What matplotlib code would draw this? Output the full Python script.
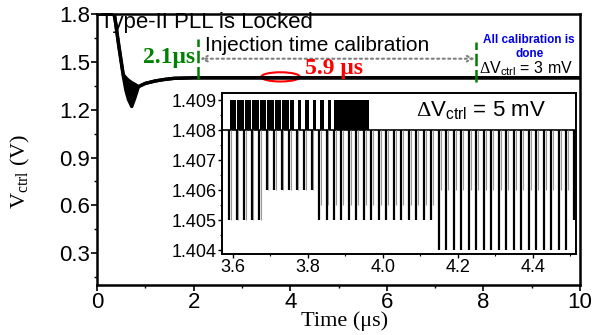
import numpy as np
import matplotlib
matplotlib.use("Agg")
import matplotlib.pyplot as plt
from matplotlib.patches import Ellipse
from matplotlib.ticker import MultipleLocator

plt.rcParams['font.family'] = ['Liberation Sans', 'DejaVu Sans']
plt.rcParams['mathtext.fontset'] = 'custom'
plt.rcParams['mathtext.rm'] = 'Liberation Serif'
plt.rcParams['mathtext.sf'] = 'Liberation Sans'

# Settling transient of Vctrl (lower / upper envelope of the ripple band)
t_env = [0.0, 0.36, 0.45, 0.545, 0.60, 0.65, 0.72, 0.78, 0.86, 1.0, 1.2, 1.4, 1.6, 2.0, 10.0]
v_low = [1.8, 1.8, 1.60, 1.41, 1.32, 1.265, 1.22, 1.27, 1.345, 1.365, 1.38, 1.39, 1.397, 1.40, 1.40]
v_up = [1.8, 1.8, 1.61, 1.42, 1.40, 1.385, 1.37, 1.36, 1.345, 1.365, 1.38, 1.39, 1.397, 1.40, 1.40]

t_lock = 2.1
t_done = 7.85

# Inset: downward spikes on Vctrl (us, V)
spike_t = [3.59, 3.61, 3.63, 3.65, 3.67,
           3.69, 3.71, 3.73, 3.75, 3.77, 3.79, 3.81,
           3.83, 3.85, 3.87, 3.89, 3.91, 3.93, 3.95, 3.97, 3.99, 4.01, 4.03, 4.05, 4.07, 4.09, 4.11, 4.13,
           4.15, 4.17, 4.19, 4.21, 4.23, 4.25, 4.27, 4.29, 4.31, 4.33, 4.35, 4.37, 4.39, 4.41, 4.43, 4.45,
           4.47, 4.49,
           4.51]
spike_lo = [1.405] * 5 + [1.406] * 7 + [1.405] * 16 + [1.404] * 18 + [1.405]
ghost_lo = [1.405] * 5 + [1.406] * 7 + [1.4055] * 16 + [1.406] * 18 + [1.405]

# Inset: intervals where Vctrl toggles up to 1.409 V
hi_left = [3.592, 3.612, 3.632, 3.652, 3.672, 3.692, 3.712, 3.732,
           3.753, 3.773, 3.793, 3.813, 3.833, 3.853, 3.869]
hi_width = [0.017, 0.017, 0.017, 0.017, 0.017, 0.017, 0.017, 0.017,
            0.009, 0.009, 0.009, 0.009, 0.009, 0.009, 0.094]

fig = plt.figure(figsize=(6.08, 3.35), dpi=100)
ax = fig.add_axes([0.1595, 0.149, 0.7945, 0.809])

ax.fill_between(t_env, v_low, v_up, color='k', lw=0)
ax.plot(t_env, v_low, color='k', lw=2.4)
ax.plot(t_env, v_up, color='k', lw=2.4)

ax.set_xlim(0, 10)
ax.set_ylim(0.1, 1.8)
ax.xaxis.set_major_locator(MultipleLocator(2))
ax.xaxis.set_minor_locator(MultipleLocator(1))
ax.yaxis.set_major_locator(MultipleLocator(0.3))
ax.yaxis.set_minor_locator(MultipleLocator(0.15))
ax.tick_params(which='major', length=4, width=1.2, labelsize=16, pad=1)
ax.tick_params(which='minor', length=2, width=1.0)
ax.set_xticks([0, 2, 4, 6, 8, 10])
ax.set_yticks([0.3, 0.6, 0.9, 1.2, 1.5, 1.8])
ax.set_yticklabels(['0.3', '0.6', '0.9', '1.2', '1.5', '1.8'])
for s in ax.spines.values():
    s.set_linewidth(1.8)

ax.set_xlabel('Time (\u03bcs)', family='Liberation Serif', fontsize=16)
ax.set_ylabel(r'V$_{\rm ctrl}$ (V)', family='Liberation Serif', fontsize=16)
ax.xaxis.set_label_coords(0.513, -0.095)
ax.yaxis.set_label_coords(-0.135, 0.42)

# annotations
ax.text(0.06, 1.745, 'Type-II PLL is Locked', fontsize=16, va='center', ha='left')
ax.text(2.24, 1.60, 'Injection time calibration', fontsize=15, va='center', ha='left')
ax.vlines([t_lock], 1.39, 1.645, colors='green', linestyles=(0, (5, 1.5)), lw=1.8)
ax.vlines([t_done], 1.375, 1.625, colors='green', linestyles=(0, (5, 1.5)), lw=1.8)
ax.annotate('', xy=(t_lock + 0.03, 1.52), xytext=(t_done - 0.03, 1.52),
            arrowprops=dict(arrowstyle='<->', linestyle=':', color='grey', lw=1.5,
                            shrinkA=0, shrinkB=0))
ax.text(2.03, 1.53, '2.1\u03bcs', family='Liberation Serif', fontsize=17, fontweight='bold',
        color='green', ha='right', va='center')
ax.text(4.3, 1.46, '5.9 \u03bcs', family='Liberation Serif', fontsize=17, fontweight='bold',
        color='red', ha='left', va='center')
ax.add_patch(Ellipse((3.8, 1.406), 0.8, 0.058, fill=False, edgecolor='red', lw=1.5))
ax.text(8.95, 1.64, 'All calibration is', fontsize=8.5, fontweight='bold', color='#0000ee',
        ha='center', va='center')
ax.text(8.95, 1.55, 'done', fontsize=8.5, fontweight='bold', color='#0000ee',
        ha='center', va='center')
ax.text(7.9, 1.46, r'$\Delta$V$_{\mathsf{ctrl}}$ = 3 mV', fontsize=11.5, ha='left', va='center')

# inset
axi = fig.add_axes([0.365, 0.242, 0.582, 0.48])
axi.bar(hi_left, 0.001, width=hi_width, bottom=1.408, align='edge', color='k', lw=0)
axi.axhline(1.408, color='k', lw=1.2)
axi.vlines(spike_t, spike_lo, 1.408, colors='k', lw=1.6)
axi.vlines(np.array(spike_t) + 0.005, ghost_lo, 1.408, colors='#999999', lw=0.8)
axi.set_xlim(3.571, 4.515)
axi.set_ylim(1.40387, 1.40923)
axi.xaxis.set_major_locator(MultipleLocator(0.2))
axi.xaxis.set_minor_locator(MultipleLocator(0.1))
axi.yaxis.set_major_locator(MultipleLocator(0.001))
axi.yaxis.set_minor_locator(MultipleLocator(0.0005))
axi.set_xticks([3.6, 3.8, 4.0, 4.2, 4.4])
axi.set_xticklabels(['3.6', '3.8', '4.0', '4.2', '4.4'])
axi.set_yticks([1.404, 1.405, 1.406, 1.407, 1.408, 1.409])
axi.set_yticklabels(['1.404', '1.405', '1.406', '1.407', '1.408', '1.409'])
axi.tick_params(which='major', length=3, width=1.0, labelsize=13, pad=1)
axi.tick_params(which='minor', length=1.5, width=0.8)
for s in axi.spines.values():
    s.set_linewidth(1.4)
axi.text(4.09, 1.40863, r'$\Delta$V$_{\mathsf{ctrl}}$ = 5 mV', fontsize=16, ha='left', va='center')

fig.savefig('out.png', dpi=100)
